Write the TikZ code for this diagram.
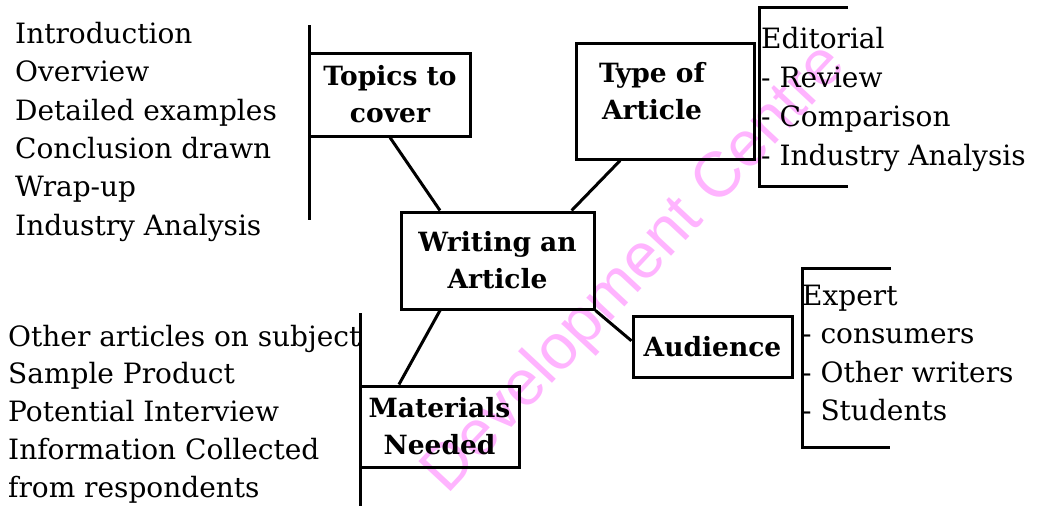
\documentclass[tikz,border=0pt]{standalone}
\usepackage{fontspec}
\setmainfont{DejaVu Serif}
\newfontfamily\wmfont{Liberation Sans}

\tikzset{
  box/.style={draw, line width=3pt, inner sep=0pt, align=center,
    font=\bfseries\fontsize{26.5}{37}\selectfont},
  item/.style={anchor=base west, inner sep=0pt, font=\fontsize{28}{32}\selectfont},
  link/.style={line width=3pt},
}

\begin{document}
\begin{tikzpicture}[x=1pt,y=-1pt]
\useasboundingbox (0,0) rectangle (1044,506);

% watermark
\node[rotate=47, text={rgb,255:red,255;green,180;blue,255}, font=\wmfont\fontsize{64}{70}\selectfont] (wm) at (636,270) {Development Centre};

% boxes
\node[box, minimum width=161, minimum height=83] (topics) at (390,94.5) {Topics to\\cover};
\node[box, minimum width=178, minimum height=116] (type) at (665,101) {\mbox{Type of\hspace{26pt}}\\\mbox{Article\hspace{26pt}}\\[-17pt]};
\node[box, minimum width=193, minimum height=97] (writing) at (497.5,260.5) {Writing an\\Article};
\node[box, minimum width=159, minimum height=61] (audience) at (712.5,346.5) {Audience};
\node[box, minimum width=159, minimum height=81] (materials) at (439.5,426.5) {Materials\\Needed};

% links to the centre
\draw[link] (topics.south) -- (writing.139);
\draw[link] (type.233) -- (writing.34);
\draw[link] (writing.221) -- (materials.134);
\draw[link] (writing.south east) -- (audience.176);

% lists
\foreach \t [count=\i] in {Introduction,Overview,Detailed examples,Conclusion drawn,Wrap-up,Industry Analysis}
  \node[item] (topic\i) at (15,{43.5+38.3*(\i-1)}) {\t};
\draw[link] (309,25) -- (309,220);

\foreach \t [count=\i] in {Editorial,- Review,- Comparison,- Industry Analysis}
  \node[item] (kind\i) at (761,{48+39*(\i-1)}) {\t};
\draw[link] (848,7) -- (759,7) -- (759,186) -- (848,186);

\foreach \t [count=\i] in {Expert,- consumers,- Other writers,- Students}
  \node[item] (reader\i) at (802,{305+38.5*(\i-1)}) {\t};
\draw[link] (891,268) -- (802,268) -- (802,447) -- (890,447);

\foreach \t [count=\i] in {Other articles on subject,Sample Product,Potential Interview,Information Collected,from respondents}
  \node[item] (source\i) at (8,{346+37.8*(\i-1)}) {\t};
\draw[link] (360,313) -- (360,506);
\end{tikzpicture}
\end{document}
